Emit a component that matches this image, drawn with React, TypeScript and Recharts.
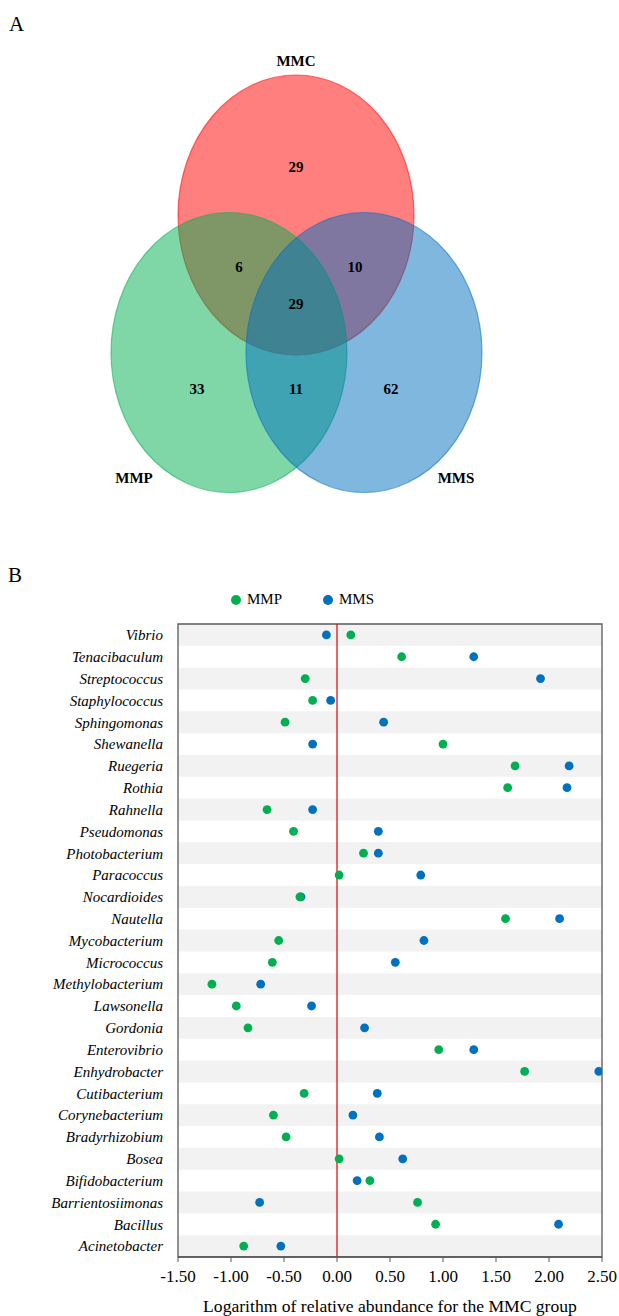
import React from 'react'
import {
  ScatterChart, Scatter, XAxis, YAxis, ReferenceArea, ReferenceLine, Legend,
} from 'recharts'

// ---- Panel A: Venn data ----
const vennSets = ['MMC', 'MMP', 'MMS']
const vennRegions = ['MMC', 'MMC&MMP', 'MMC&MMS', 'MMC&MMP&MMS', 'MMP', 'MMP&MMS', 'MMS']
const vennCounts = [29, 6, 10, 29, 33, 11, 62]

// ---- Panel B: dot plot data ----
const genera = [
  'Vibrio', 'Tenacibaculum', 'Streptococcus', 'Staphylococcus', 'Sphingomonas',
  'Shewanella', 'Ruegeria', 'Rothia', 'Rahnella', 'Pseudomonas', 'Photobacterium',
  'Paracoccus', 'Nocardioides', 'Nautella', 'Mycobacterium', 'Micrococcus',
  'Methylobacterium', 'Lawsonella', 'Gordonia', 'Enterovibrio', 'Enhydrobacter',
  'Cutibacterium', 'Corynebacterium', 'Bradyrhizobium', 'Bosea', 'Bifidobacterium',
  'Barrientosiimonas', 'Bacillus', 'Acinetobacter',
]
const mmpValues = [
  0.13, 0.61, -0.30, -0.23, -0.49, 1.00, 1.68, 1.61, -0.66, -0.41, 0.25,
  0.02, -0.35, 1.59, -0.55, -0.61, -1.18, -0.95, -0.84, 0.96, 1.77,
  -0.31, -0.60, -0.48, 0.02, 0.31, 0.76, 0.93, -0.88,
]
const mmsValues = [
  -0.10, 1.29, 1.92, -0.06, 0.44, -0.23, 2.19, 2.17, -0.23, 0.39, 0.39,
  0.79, -0.34, 2.10, 0.82, 0.55, -0.72, -0.24, 0.26, 1.29, 2.47,
  0.38, 0.15, 0.40, 0.62, 0.19, -0.73, 2.09, -0.53,
]
const xTicks = [-1.5, -1.0, -0.5, 0, 0.5, 1.0, 1.5, 2.0, 2.5]

// layout of the venn (chart units = px)
const vennColors: Record<string, string> = { MMC: '#FF0000', MMP: '#00B050', MMS: '#0070C0' }
const vennCenters: Record<string, [number, number]> = {
  MMC: [296, 215], MMP: [229, 352.5], MMS: [364, 352.5],
}
const vennNamePos: Record<string, [number, number]> = {
  MMC: [296, 61], MMP: [134, 478], MMS: [456, 478],
}
const vennRegionPos: Record<string, [number, number]> = {
  'MMC': [296, 167], 'MMC&MMP': [239, 267], 'MMC&MMS': [355, 267],
  'MMC&MMP&MMS': [296, 304], 'MMP': [197, 389], 'MMP&MMS': [296, 389], 'MMS': [391, 389],
}

const serif = '"Liberation Serif", "Times New Roman", serif'
const GREEN = '#00B050'
const BLUE = '#0070C0'

function VennEllipse(props: any) {
  const { cx, cy, payload } = props
  const c = vennColors[payload.name]
  return (
    <ellipse cx={cx} cy={cy} rx={118} ry={140} fill={c} fillOpacity={0.5}
      stroke={c} strokeOpacity={0.55} strokeWidth={1.2} />
  )
}

function VennText(props: any) {
  const { cx, cy, payload } = props
  return (
    <text x={cx} y={cy} textAnchor="middle" dominantBaseline="central"
      fontFamily={serif} fontWeight="bold" fontSize={15} fill="#000">
      {payload.label}
    </text>
  )
}

function Dot(props: any) {
  const { cx, cy, fill } = props
  if (cx == null || cy == null) return null
  return <circle cx={cx} cy={cy} r={4.4} fill={fill} />
}

function LegendContent(props: any) {
  const items = [...(props.payload || [])].sort((a: any, b: any) => String(a.value).localeCompare(String(b.value)))
  return (
    <div style={{ display: 'flex', alignItems: 'center', paddingLeft: 231, fontFamily: serif, fontSize: 15, color: '#000' }}>
      {items.map((it: any, i: number) => (
        <div key={it.value} style={{ display: 'flex', alignItems: 'center', marginRight: i === 0 ? 41 : 0 }}>
          <span style={{ width: 10, height: 10, borderRadius: 5, background: it.color, display: 'inline-block', marginRight: 6 }} />
          <span>{it.value}</span>
        </div>
      ))}
    </div>
  )
}

export default function App() {
  const circleData = vennSets.map((s) => ({ name: s, x: vennCenters[s][0], y: vennCenters[s][1] }))
  const countData = vennRegions.map((r, i) => ({ label: String(vennCounts[i]), x: vennRegionPos[r][0], y: vennRegionPos[r][1] }))
  const nameData = vennSets.map((s) => ({ label: s, x: vennNamePos[s][0], y: vennNamePos[s][1] }))

  const mmpData = genera.map((g, i) => ({ genus: g, value: mmpValues[i] }))
  const mmsData = genera.map((g, i) => ({ genus: g, value: mmsValues[i] }))

  return (
    <div style={{ position: 'absolute', left: 0, top: 0, width: 619, height: 1316, background: '#fff', fontFamily: serif }}>
      <div style={{ position: 'absolute', left: 9, top: 12, fontSize: 21, color: '#000' }}>A</div>
      <div style={{ position: 'absolute', left: 8, top: 563, fontSize: 21, color: '#000' }}>B</div>

      <div style={{ position: 'absolute', left: 0, top: 0 }}>
        <ScatterChart width={619} height={520} margin={{ top: 0, right: 0, bottom: 0, left: 0 }}>
          <XAxis type="number" dataKey="x" domain={[0, 619]} hide />
          <YAxis type="number" dataKey="y" domain={[0, 520]} reversed hide />
          <Scatter data={circleData} shape={VennEllipse} isAnimationActive={false} />
          <Scatter data={countData} shape={VennText} isAnimationActive={false} />
          <Scatter data={nameData} shape={VennText} isAnimationActive={false} />
        </ScatterChart>
      </div>

      <div style={{ position: 'absolute', left: 0, top: 580 }}>
        <ScatterChart width={619} height={736} margin={{ top: 44, right: 17, bottom: 2, left: 0 }}>
          <XAxis
            type="number" dataKey="value" domain={[-1.5, 2.5]} ticks={xTicks}
            tickFormatter={(v: number) => v.toFixed(2)}
            tick={{ fontFamily: serif, fontSize: 17, fill: '#000' }}
            axisLine={{ stroke: '#595959', strokeWidth: 1.3 }}
            tickLine={{ stroke: '#595959' }} tickSize={5} tickMargin={8}
            height={57} allowDataOverflow
            label={{ value: 'Logarithm of relative abundance for the MMC group', position: 'insideBottom', offset: 2, fontFamily: serif, fontSize: 17.6, fill: '#000' }}
          />
          <YAxis
            type="category" dataKey="genus" scale="band" allowDuplicatedCategory={false}
            reversed width={178} axisLine={false} tickLine={false} tickSize={0} tickMargin={15}
            interval={0}
            tick={{ fontFamily: serif, fontSize: 15, fontStyle: 'italic', fill: '#000' }}
          />
          {genera.map((g, i) => (i % 2 === 0 ? (
            <ReferenceArea key={g} y1={g} y2={g} fill="#F2F2F2" fillOpacity={1} stroke="none" ifOverflow="visible" />
          ) : null))}
          <ReferenceLine x={0} stroke="#E00000" strokeWidth={1.2} />
          <ReferenceArea x1={-1.5} x2={2.5} fill="none" stroke="#595959" strokeWidth={1.3} ifOverflow="visible" />
          <Legend layout="horizontal" verticalAlign="middle" align="center" content={LegendContent}
            wrapperStyle={{ top: 11, left: 0, width: 619 }} />
          <Scatter name="MMS" data={mmsData} fill={BLUE} shape={Dot} isAnimationActive={false} />
          <Scatter name="MMP" data={mmpData} fill={GREEN} shape={Dot} isAnimationActive={false} />
        </ScatterChart>
      </div>
    </div>
  )
}
